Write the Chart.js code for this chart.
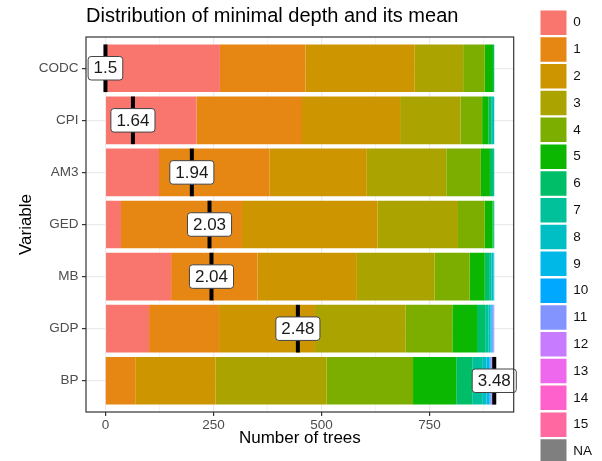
<!DOCTYPE html>
<html>
<head>
<meta charset="utf-8">
<script src="https://cdn.jsdelivr.net/npm/chart.js"></script>
<style>
  body { margin: 0; background: #fff; }
  #wrap { width: 602px; height: 461px; }
</style>
</head>
<body>
<div id="wrap"><canvas id="chart" width="602" height="461"></canvas></div>
<script>
// variables, top to bottom
const variables = ['CODC', 'CPI', 'AM3', 'GED', 'MB', 'GDP', 'BP'];
const depthLevels = ['0','1','2','3','4','5','6','7','8','9','10','11','12','13','14','15','NA'];
const depthColors = ['#F8766D','#E68613','#CD9600','#ABA300','#7CAE00','#0CB702','#00BE67','#00C19A',
                     '#00BFC4','#00B8E7','#00A9FF','#8494FF','#C77CFF','#ED68ED','#FF61CC','#FF68A1','#7F7F7F'];

// number of trees per minimal depth (0..15, NA)
const codc = [265,198,253,112, 50, 19,  3,  0,  0, 0, 0, 0, 0, 0, 0, 0, 0];
const cpi  = [211,244,227,140, 50, 15,  6,  4,  3, 0, 0, 0, 0, 0, 0, 0, 0];
const am3  = [124,256,225,184, 80, 21,  7,  3,  0, 0, 0, 0, 0, 0, 0, 0, 0];
const ged  = [ 36,280,314,186, 62, 18,  3,  1,  0, 0, 0, 0, 0, 0, 0, 0, 0];
const mb   = [152,200,230,180, 81, 35, 10,  6,  4, 2, 0, 0, 0, 0, 0, 0, 0];
const gdp  = [101,162,222,210,108, 57, 19,  8,  4, 3, 2, 2, 2, 0, 0, 0, 0];
const bp   = [  1, 68,186,257,200,100, 37, 23, 10, 7, 2, 2, 2, 3, 1, 1, 0];

const meanDepth = [1.5, 1.64, 1.94, 2.03, 2.04, 2.48, 3.48];

const xTicks = [0, 250, 500, 750];
const xMinor = [125, 375, 625, 875];

const counts = [codc, cpi, am3, ged, mb, gdp, bp];

// mean marks are rescaled onto the tree-count axis
const ntree = Math.max(...counts.map(c => c.reduce((a, b) => a + b, 0)));
const mMin = Math.min(...meanDepth);
const mMax = Math.max(...meanDepth);
const markPos = meanDepth.map(m => (m - mMin) / (mMax - mMin) * ntree);

const datasets = depthLevels.map((lvl, d) => ({
    label: lvl,
    data: counts.map((c, i) => ({x: c[d], y: i})),
    backgroundColor: depthColors[d],
    borderWidth: 0,
    barPercentage: 0.915,
    categoryPercentage: 1.0
}));

Chart.defaults.font.family = "'Liberation Sans', Arial, sans-serif";

const meanMarks = {
    id: 'meanMarks',
    afterDatasetsDraw(chart) {
        const {ctx, scales: {x, y}} = chart;
        const bar = chart.getDatasetMeta(0).data[0];
        const h = bar.height;
        ctx.save();
        markPos.forEach((p, i) => {
            const px = x.getPixelForValue(p);
            const py = y.getPixelForValue(i);
            ctx.fillStyle = '#000';
            ctx.fillRect(px - 2, py - h / 2, 4, h);

            const txt = String(meanDepth[i]);
            ctx.font = "17px 'Liberation Sans', Arial, sans-serif";
            const w = ctx.measureText(txt).width + 11;
            const bh = 23.5;
            ctx.beginPath();
            ctx.roundRect(px - w / 2, py - bh / 2, w, bh, 3);
            ctx.fillStyle = '#fff';
            ctx.fill();
            ctx.lineWidth = 1;
            ctx.strokeStyle = '#444';
            ctx.stroke();
            ctx.fillStyle = '#1a1a1a';
            ctx.textAlign = 'center';
            ctx.textBaseline = 'middle';
            ctx.fillText(txt, px, py + 0.5);
        });
        ctx.restore();
    },
    afterDraw(chart) {
        const {ctx, chartArea: a} = chart;
        ctx.save();
        ctx.strokeStyle = '#333';
        ctx.lineWidth = 1.2;
        ctx.strokeRect(a.left, a.top, a.right - a.left, a.bottom - a.top);
        ctx.restore();
    }
};

new Chart(document.getElementById('chart').getContext('2d'), {
    type: 'bar',
    data: { datasets: datasets },
    plugins: [meanMarks],
    options: {
        indexAxis: 'y',
        responsive: false,
        animation: false,
        layout: { padding: { right: 0, bottom: -5 } },
        plugins: {
            title: {
                display: true,
                text: 'Distribution of minimal depth and its mean',
                align: 'start',
                fullSize: false,
                color: '#000',
                font: { size: 20, weight: 'normal' },
                padding: { top: 4.5, bottom: 8.5 }
            },
            legend: {
                position: 'right',
                align: 'end',
                labels: {
                    boxWidth: 26,
                    boxHeight: 24.5,
                    padding: 2.3,
                    color: '#111',
                    font: { size: 13.5 }
                }
            },
            tooltip: { enabled: false }
        },
        scales: {
            x: {
                type: 'linear',
                stacked: true,
                min: -45,
                max: 945,
                afterBuildTicks: s => { s.ticks = xTicks.concat(xMinor).sort((a, b) => a - b).map(v => ({value: v})); },
                afterFit: s => { s.height = 54; },
                border: { display: false },
                grid: {
                    color: '#EBEBEB',
                    lineWidth: c => xTicks.includes(c.tick.value) ? 1.2 : 0.6,
                    tickColor: c => xTicks.includes(c.tick.value) ? '#333' : 'rgba(0,0,0,0)',
                    tickLength: 4
                },
                ticks: {
                    autoSkip: false,
                    maxRotation: 0,
                    padding: 1.5,
                    color: '#4D4D4D',
                    font: { size: 13.5 },
                    callback: v => xTicks.includes(v) ? v : ''
                },
                title: {
                    display: true,
                    text: 'Number of trees',
                    color: '#000',
                    font: { size: 17 },
                    padding: { top: 0, bottom: 17.3 }
                }
            },
            y: {
                type: 'linear',
                stacked: true,
                reverse: true,
                offset: false,
                min: -0.6,
                max: 6.6,
                afterBuildTicks: s => { s.ticks = variables.map((v, i) => ({value: i})); },
                afterFit: s => { s.width = 86; },
                border: { display: false },
                grid: {
                    offset: false,
                    color: '#EBEBEB',
                    lineWidth: 1.2,
                    tickColor: '#333',
                    tickLength: 4
                },
                ticks: {
                    autoSkip: false,
                    padding: 3.5,
                    color: '#4D4D4D',
                    font: { size: 13.5 },
                    callback: v => variables[v]
                },
                title: {
                    display: true,
                    text: 'Variable',
                    color: '#000',
                    font: { size: 17 },
                    padding: { top: 16.6, bottom: 0 }
                }
            },
            yr: {
                type: 'linear',
                position: 'right',
                display: true,
                afterFit: s => { s.width = 24.5; },
                border: { display: false },
                grid: { display: false },
                ticks: { display: false }
            }
        }
    }
});
</script>
</body>
</html>
